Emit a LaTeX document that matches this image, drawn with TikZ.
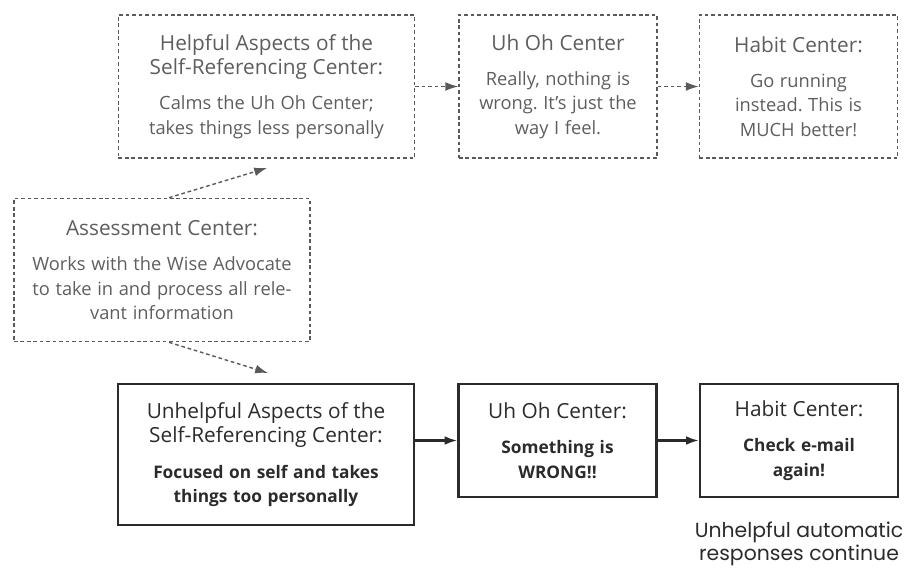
\documentclass[tikz,border=0pt]{standalone}
\usepackage{fontspec}
\setmainfont{Open Sans}
\newfontfamily\notefont{Poppins}
\usetikzlibrary{arrows.meta}
\definecolor{dashgray}{HTML}{5A5A5A}
\definecolor{textgray}{HTML}{5E5E5E}
\definecolor{darkline}{HTML}{2B2B2B}
\newcommand{\headtext}[1]{{\fontsize{14.8}{17.2}\selectfont #1}}
\newcommand{\bodytext}[1]{{\fontsize{13}{17.2}\selectfont #1}}
\newcommand{\boldtext}[1]{{\fontsize{12.3}{17.2}\selectfont\bfseries #1}}
\begin{document}
\frenchspacing
\begin{tikzpicture}[x=0.025cm,y=-0.025cm,
				every node/.style={align=center,inner sep=0pt,font=\fontsize{12}{17.2}\selectfont},
				helpbox/.style={draw=dashgray,text=textgray,line width=1pt,dash pattern=on 2.6pt off 2pt},
				harmbox/.style={draw=darkline,text=darkline,line width=1.6pt},
				wide/.style={minimum width=7.4cm,minimum height=3.58cm,text width=7.3cm},
				narrow/.style={minimum width=4.95cm,minimum height=3.58cm,text width=4.85cm},
				short/.style={minimum width=4.95cm,minimum height=2.82cm,text width=4.85cm},
				helparrow/.style={draw=dashgray,line width=1pt,dash pattern=on 2.6pt off 2pt,-{Latex[length=3.2mm,width=2.2mm]}},
				harmarrow/.style={draw=darkline,line width=1.6pt,-{Latex[length=3.2mm,width=2.2mm]}}]
\useasboundingbox (0,0) rectangle (907,567);
\node[helpbox,wide] (helpful) at (266.5,86.5) {\headtext{Helpful Aspects of the\\Self-Referencing Center:}\\[8pt]\bodytext{Calms the Uh Oh Center;\\takes things less personally}};
\node[helpbox,narrow] (uhohtop) at (558,86.5) {\headtext{Uh Oh Center}\\[8pt]\bodytext{Really, nothing is\\wrong. It's just the\\way I feel.}};
\node[helpbox,narrow] (habittop) at (798.5,86.5) {\headtext{Habit Center:}\\[8pt]\bodytext{Go running\\instead. This is\\MUCH better!}};
\node[helpbox,wide] (assess) at (162,270) {\headtext{Assessment Center:}\\[8pt]\bodytext{Works with the Wise Advocate\\to take in and process all rele-\\vant information}};
\node[harmbox,wide,minimum height=3.52cm] (unhelpful) at (266,454.5) {\headtext{Unhelpful Aspects of the\\Self-Referencing Center:}\\[8pt]\boldtext{Focused on self and takes\\things too personally}};
\node[harmbox,short] (uhohbot) at (557.5,440.5) {\headtext{Uh Oh Center:}\\[8pt]\boldtext{Something is\\WRONG!!}};
\node[harmbox,short] (habitbot) at (799,440.5) {\headtext{Habit Center:}\\[8pt]\boldtext{Check e-mail\\again!}};
\node[text=darkline,font=\notefont\fontsize{14.5}{16.5}\selectfont] (note) at (799,544) {Unhelpful automatic\\responses continue};
\coordinate (uptip) at (267,168);
\coordinate (downtip) at (268,373);
\draw[helparrow] (helpful) -- (uhohtop);
\draw[helparrow] (uhohtop) -- (habittop);
\draw[helparrow] ([xshift=5]assess.north) -- (uptip);
\draw[helparrow] ([xshift=5]assess.south) -- (downtip);
\draw[harmarrow] (unhelpful.east |- uhohbot.west) -- (uhohbot.west);
\draw[harmarrow] (uhohbot) -- (habitbot);
\end{tikzpicture}
\end{document}
